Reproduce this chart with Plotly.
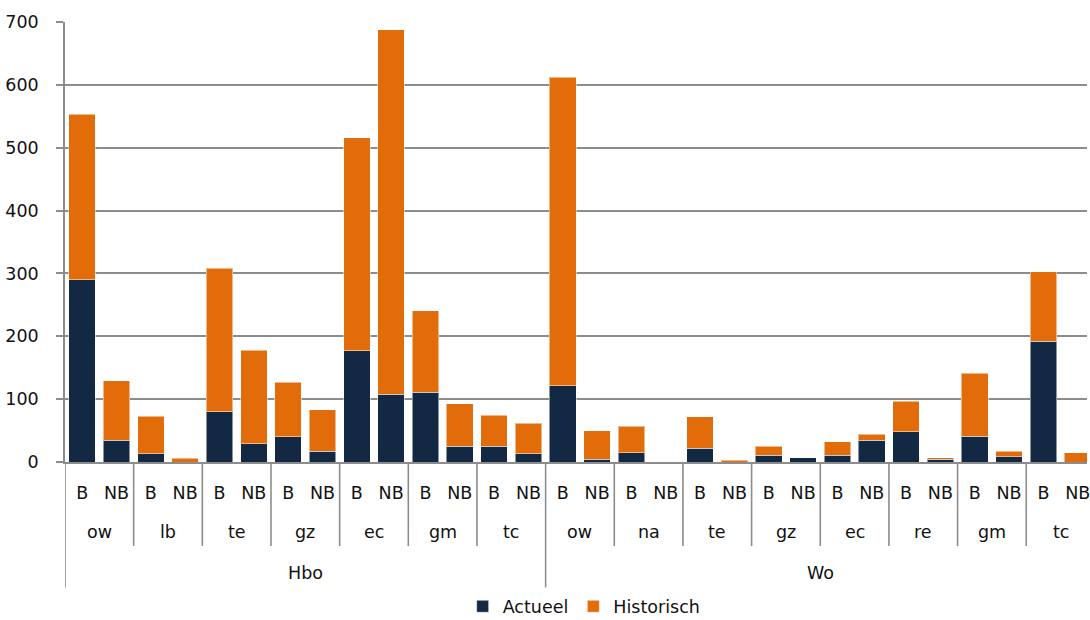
import plotly.graph_objects as go

groups = ["Hbo", "Wo"]
subgroups_hbo = ["ow", "lb", "te", "gz", "ec", "gm", "tc"]
subgroups_wo = ["ow", "na", "te", "gz", "ec", "re", "gm", "tc"]
types = ["B", "NB"]

actueel = [290, 35, 13, 0, 80, 29, 40, 17, 177, 108, 111, 25, 25, 13,
           121, 4, 15, 0, 22, 0, 11, 7, 11, 35, 48, 4, 41, 8, 192, 0]
historisch = [263, 94, 60, 6, 228, 149, 87, 66, 339, 580, 130, 68, 49, 49,
              491, 46, 42, 0, 50, 3, 14, 0, 21, 9, 49, 3, 100, 9, 111, 15]

y_ticks = [0, 100, 200, 300, 400, 500, 600, 700]

NAVY = "#132842"
ORANGE = "#e36c0a"
GRID = "#8c8c8c"
FONT = "DejaVu Sans"
FS = 17.5

cats = []
for g, subs in zip(groups, (subgroups_hbo, subgroups_wo)):
    for s in subs:
        for t in types:
            cats.append((g, s, t))
x = list(range(len(cats)))
ticktext = [c[2] for c in cats]

fig = go.Figure()
fig.add_trace(go.Bar(x=x, y=actueel, name="Actueel", marker_color=NAVY,
                     marker_line=dict(color="rgba(255,255,255,0.5)", width=1)))
fig.add_trace(go.Bar(x=x, y=historisch, name="Historisch", marker_color=ORANGE,
                     marker_line=dict(color="rgba(255,255,255,0.5)", width=1)))

shapes = []
annotations = []
SUB_BOTTOM = -0.191
GRP_BOTTOM = -0.285
line = dict(color=GRID, width=1.6)

idx = 0
group_spans = []
for g, subs in zip(groups, (subgroups_hbo, subgroups_wo)):
    start = idx
    for s in subs:
        left = idx - 0.5
        if idx != start:
            shapes.append(dict(type="line", xref="x", yref="paper", x0=left, x1=left,
                               y0=0, y1=SUB_BOTTOM, line=line))
        annotations.append(dict(x=idx + 0.5, y=-0.16, xref="x", yref="paper", text=s,
                                showarrow=False, yanchor="middle", xanchor="center",
                                font=dict(size=FS, color="#111", family=FONT)))
        idx += 2
    group_spans.append((g, start, idx - 1))
    shapes.append(dict(type="line", xref="x", yref="paper", x0=start - 0.5, x1=start - 0.5,
                       y0=0, y1=GRP_BOTTOM, line=line))

for g, a, b in group_spans:
    annotations.append(dict(x=(a + b) / 2, y=-0.253, xref="x", yref="paper", text=g,
                            showarrow=False, yanchor="middle", xanchor="center",
                            font=dict(size=FS, color="#111", family=FONT)))

fig.update_layout(
    barmode="stack",
    bargap=0.225,
    width=1090, height=620,
    margin=dict(l=65, r=0, t=22, b=158),
    paper_bgcolor="white", plot_bgcolor="white",
    font=dict(family=FONT, size=FS, color="#111"),
    shapes=shapes,
    annotations=annotations,
    legend=dict(orientation="h", x=0.508, xanchor="center", xref="paper",
                y=0.022, yanchor="middle", yref="container",
                font=dict(size=FS, family=FONT, color="#111"), itemwidth=30,
                traceorder="normal", tracegroupgap=0),
    xaxis=dict(range=[-0.5, 29.27], tickvals=x, ticktext=ticktext, showgrid=False,
               showline=True, linecolor=GRID, linewidth=1.6, ticks="",
               ticklabelstandoff=14, ticklabeloverflow="allow",
               tickfont=dict(size=FS, family=FONT, color="#111"),
               zeroline=False, fixedrange=True),
    yaxis=dict(range=[0, 700], tickvals=y_ticks, showgrid=True, gridcolor=GRID, gridwidth=1.6,
               showline=True, linecolor=GRID, linewidth=1.6, ticks="outside", ticklen=7,
               tickcolor=GRID, tickwidth=1.6, ticklabelstandoff=14,
               tickfont=dict(size=FS, family=FONT, color="#111"), zeroline=False),
)

fig.write_html("out.html", config={"displayModeBar": False},
               post_script="document.body.style.margin='0';document.body.style.overflow='hidden';")
